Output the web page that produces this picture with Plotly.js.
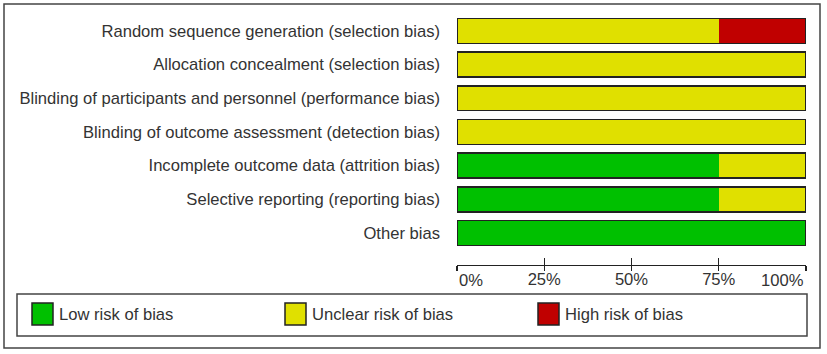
<!DOCTYPE html>
<html>
<head>
<meta charset="utf-8">
<script src="https://cdn.plot.ly/plotly-3.0.1.min.js"></script>
<style>html,body{margin:0;padding:0;background:#fff;}#chart{width:827px;height:354px;}</style>
</head>
<body>
<div id="chart"></div>
<script>
// ---- data ----
var categories = [
  "Random sequence generation (selection bias)",
  "Allocation concealment (selection bias)",
  "Blinding of participants and personnel (performance bias)",
  "Blinding of outcome assessment (detection bias)",
  "Incomplete outcome data (attrition bias)",
  "Selective reporting (reporting bias)",
  "Other bias"
];
var seriesNames = ["Low risk of bias", "Unclear risk of bias", "High risk of bias"];
var lowRisk     = [0,   0,   0,   0,   75, 75, 100];
var unclearRisk = [75,  100, 100, 100, 25, 25, 0];
var highRisk    = [25,  0,   0,   0,   0,  0,  0];
var tickValues  = [0, 25, 50, 75, 100];
var tickLabels  = ["0%", "25%", "50%", "75%", "100%"];

// ---- styling ----
var colors = ["#00C000", "#E0E000", "#C00000"];
var FONT = "Liberation Sans, Arial, sans-serif";
var FS = 16.6;
var W = 827, H = 354, ML = 457, MR = 21, MT = 14, MB = 89;
var PW = W - ML - MR, PH = H - MT - MB;
function px(x) { return (x - ML) / PW; }
function py(y) { return (H - MB - y) / PH; }

var order = categories.slice().reverse();
var yRange = [-0.95, 6.5];
var seriesValues = [lowRisk, unclearRisk, highRisk];

var traces = seriesValues.map(function (vals, i) {
  return {
    type: "bar", orientation: "h", name: seriesNames[i],
    y: categories, x: vals,
    marker: { color: colors[i], line: { width: 0 } },
    hoverinfo: "x+name", showlegend: false
  };
});
var totals = categories.map(function (c, k) {
  return seriesValues.reduce(function (s, v) { return s + v[k]; }, 0);
});
traces.push({
  type: "bar", orientation: "h", y: categories, x: totals, yaxis: "y2",
  marker: { color: "rgba(0,0,0,0)", line: { color: "#222", width: 1.6 } },
  hoverinfo: "skip", showlegend: false
});

var shapes = [
  { type: "rect", xref: "paper", yref: "paper", x0: px(4), x1: px(820), y0: py(4), y1: py(348),
    line: { color: "#444", width: 1.5 }, fillcolor: "rgba(0,0,0,0)", layer: "below" },
  { type: "rect", xref: "paper", yref: "paper", x0: px(17), x1: px(807), y0: py(294), y1: py(336),
    line: { color: "#444", width: 1.5 }, fillcolor: "rgba(0,0,0,0)" }
];
var labelFont = { family: FONT, size: FS, color: "#333" };
var annotations = [
  { xref: "x", yref: "paper", x: tickValues[0], y: py(269), yanchor: "top", xanchor: "left",
    text: tickLabels[0], showarrow: false, font: labelFont },
  { xref: "x", yref: "paper", x: tickValues[tickValues.length - 1], y: py(269), yanchor: "top", xanchor: "right",
    text: tickLabels[tickLabels.length - 1], showarrow: false, font: labelFont }
];
seriesNames.forEach(function (n, i) {
  var x0 = 32 + i * 253;
  shapes.push({ type: "rect", xref: "paper", yref: "paper", x0: px(x0), x1: px(x0 + 21), y0: py(303), y1: py(325),
    line: { color: "#222", width: 1.5 }, fillcolor: colors[i] });
  annotations.push({ xref: "paper", yref: "paper", x: px(x0 + 25), y: py(314), xanchor: "left", yanchor: "middle",
    text: n, showarrow: false, font: labelFont });
});

var midText = tickLabels.map(function (t, i) { return (i === 0 || i === tickLabels.length - 1) ? "" : t; });

var layout = {
  width: W, height: H,
  margin: { l: ML, r: MR, t: MT, b: MB, pad: 0 },
  paper_bgcolor: "#fff", plot_bgcolor: "rgba(0,0,0,0)",
  barmode: "stack", bargap: 0.26,
  showlegend: false,
  font: labelFont,
  xaxis: {
    range: [0, 100], fixedrange: true,
    tickmode: "array", tickvals: tickValues, ticktext: midText,
    showgrid: false, zeroline: false, showline: true, linecolor: "#222", linewidth: 1.2,
    ticks: "outside", ticklen: 5, tickwidth: 1.2, tickcolor: "#222", ticklabelstandoff: -6,
    tickfont: labelFont
  },
  xaxis2: {
    overlaying: "x", anchor: "y", range: [0, 100], tickmode: "array", tickvals: tickValues, showticklabels: false,
    showgrid: false, zeroline: false, showline: false, ticks: "inside", ticklen: 7, tickwidth: 1.2, tickcolor: "#222"
  },
  yaxis: {
    type: "category", categoryorder: "array", categoryarray: order, range: yRange,
    showgrid: false, zeroline: false, showline: false, ticks: "", ticklabelstandoff: 16,
    tickfont: labelFont
  },
  yaxis2: {
    overlaying: "y", type: "category", categoryorder: "array", categoryarray: order, range: yRange,
    showticklabels: false, showgrid: false, zeroline: false, showline: false
  },
  shapes: shapes,
  annotations: annotations
};
traces.push({ type: "scatter", x: [], y: [], xaxis: "x2", yaxis: "y", hoverinfo: "skip", showlegend: false });

Plotly.newPlot("chart", traces, layout, { displayModeBar: false, staticPlot: true });
</script>
</body>
</html>
